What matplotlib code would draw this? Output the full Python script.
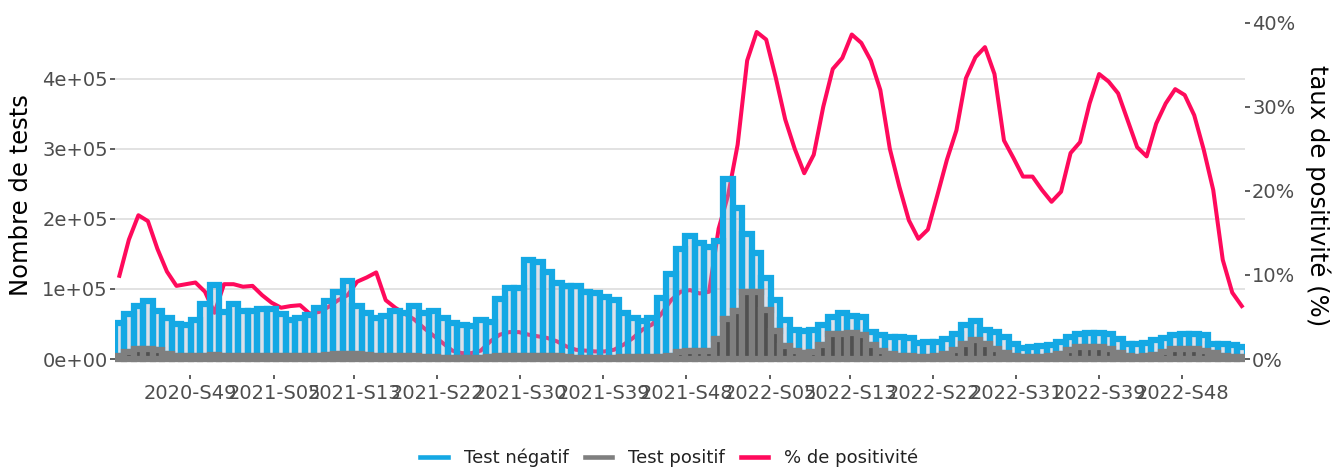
import numpy as np
import pandas as pd
import matplotlib
matplotlib.use("Agg")
import matplotlib.pyplot as plt
from matplotlib.lines import Line2D
from matplotlib.ticker import FixedLocator, FuncFormatter

# weekly data, 119 weeks starting mid-october 2020
weeks = pd.date_range("2020-10-10", periods=119, freq="7D")

# total number of tests (thousands)
total_k = [51, 64, 75, 83, 68, 59, 50, 49, 56, 78, 106, 67, 78, 69, 69, 72, 72, 64, 56, 58,
           63, 73, 83, 96, 111, 75, 65, 58, 61, 69, 66, 76, 65, 68, 59, 51, 49, 47, 55, 53,
           85, 101, 101, 141, 139, 124, 109, 104, 104, 95, 94, 89, 84, 66, 59, 54, 59, 87, 121, 157,
           175, 166, 160, 169, 257, 215, 178, 151, 115, 84, 55, 42, 40, 41, 48, 60, 65, 61, 60, 39,
           34, 32, 31, 30, 23, 24.5, 24.5, 29, 36, 49, 54, 41, 38, 32, 21, 16, 17, 18, 20, 24.5,
           32, 35, 37, 37, 36, 29, 22, 21, 23, 27, 30, 34, 36, 35, 34, 22, 21, 20, 17]

# positive tests (thousands)
positive_k = [5, 10, 14, 14, 13, 7, 5, 5, 5, 5, 6, 5, 5, 5, 5, 5, 5, 4, 4, 4,
              4, 5, 6, 7, 7, 7, 6, 5, 5, 4, 4, 4, 3, 3, 2, 2, 2, 2, 2, 3,
              4, 5, 5, 5, 5, 4, 4, 3, 2, 2, 2, 2, 2, 3, 3, 3, 3, 3, 5, 10,
              12, 12, 11, 28, 57, 68, 96, 96, 70, 40, 19, 12, 9, 10, 20, 36, 36, 37, 34, 20,
              12, 7, 5, 4, 3, 3, 4, 7, 13, 22, 27, 22, 15, 8, 4, 3, 3, 3, 4, 7,
              13, 17, 17, 17, 15, 9, 4, 3, 4, 6, 10, 14, 15, 15, 12, 8, 4, 3, 3]

# positivity rate (%)
positivity = [9.9, 14.2, 17.1, 16.4, 13.1, 10.4, 8.7, 8.9, 9.1, 8.0, 5.5, 8.9, 8.9, 8.6, 8.7, 7.6, 6.7, 6.1, 6.3, 6.4,
              5.4, 5.6, 6.2, 7.0, 7.6, 9.2, 9.7, 10.3, 7.0, 6.1, 5.4, 4.7, 3.7, 2.8, 1.9, 1.0, 0.7, 0.7, 1.0, 2.1,
              2.9, 3.2, 3.2, 2.9, 2.7, 2.5, 2.1, 1.5, 1.1, 1.0, 0.9, 0.9, 1.1, 1.7, 2.5, 3.5, 4.1, 5.4, 7.0, 8.0,
              8.2, 7.8, 8.0, 15.5, 19.5, 25.5, 35.5, 38.9, 38.0, 33.5, 28.5, 25.0, 22.1, 24.3, 30.0, 34.5, 35.8, 38.6, 37.6, 35.5,
              32.0, 25.0, 20.5, 16.5, 14.3, 15.4, 19.5, 23.7, 27.2, 33.4, 35.9, 37.1, 33.9, 26.0, 23.9, 21.7, 21.7, 20.1, 18.7, 19.9,
              24.5, 25.8, 30.4, 33.9, 33.0, 31.6, 28.4, 25.2, 24.1, 28.0, 30.4, 32.1, 31.4, 29.0, 24.9, 20.1, 11.8, 7.9, 6.3]

tick_dates = pd.to_datetime(["2020-12-01", "2021-02-01", "2021-04-01", "2021-06-01", "2021-08-01",
                             "2021-10-01", "2021-12-01", "2022-02-01", "2022-04-01", "2022-06-01",
                             "2022-08-01", "2022-10-01", "2022-12-01"])
tick_labels = ["2020-S49", "2021-S05", "2021-S13", "2021-S22", "2021-S30", "2021-S39", "2021-S48",
               "2022-S05", "2022-S13", "2022-S22", "2022-S31", "2022-S39", "2022-S48"]

count_ticks = [0, 100000, 200000, 300000, 400000]
pct_ticks = [0, 10, 20, 30, 40]
scale = 12000  # tests per % on the secondary axis

col_neg = "#14A8E4"
col_pos = "#7F7F7F"
col_line = "#FF0A5C"
txt_col = "#4D4D4D"

total = np.array(total_k) * 1000
pos = np.array(positive_k) * 1000
neg = total - pos

plt.rcParams["font.family"] = "DejaVu Sans"

fig = plt.figure(figsize=(13.39, 4.68), dpi=100)
ax1 = fig.add_axes([0.0859, 0.198, 0.8439, 0.769])
ax2 = ax1.twinx()
ax1.set_zorder(2)
ax2.set_zorder(1)
ax1.patch.set_visible(False)

ylo, yhi = -23300, 490400
ax1.set_ylim(ylo, yhi)
ax2.set_ylim(ylo / scale, yhi / scale)
ax1.set_xlim(pd.Timestamp("2020-10-06 19:00"), pd.Timestamp("2023-01-16 09:00"))

# line (behind the bars)
ax2.plot(weeks, positivity, color=col_line, lw=2.9, solid_joinstyle="round")

# grid lines at left-axis breaks, drawn on the back axis
ax2.yaxis.set_minor_locator(FixedLocator(np.array(count_ticks) / scale))
ax2.grid(which="minor", axis="y", color="#DADADA", lw=1.1)
ax2.grid(which="major", visible=False)
ax2.tick_params(which="minor", length=0)

# bars: thick outline, see-through core
ax1.bar(weeks, neg, bottom=pos, width=7, facecolor=(0.62, 0.67, 0.76, 0.36),
        edgecolor=col_neg, linewidth=4.5)
ax1.bar(weeks, pos, width=7, facecolor="#505050", edgecolor=col_pos, linewidth=4.5)

for a in (ax1, ax2):
    for s in a.spines.values():
        s.set_visible(False)

ax1.set_yticks(count_ticks)
ax1.yaxis.set_major_formatter(FuncFormatter(lambda v, p: "0e+00" if v == 0 else f"{int(v/1e5)}e+05"))
ax2.set_yticks(pct_ticks)
ax2.set_yticklabels([f"{t}%" for t in pct_ticks])
ax1.set_xticks(tick_dates)
ax1.set_xticklabels(tick_labels)

ax1.tick_params(axis="y", labelsize=14, labelcolor=txt_col, length=3.6, width=1.1, color="#333333", pad=1.5)
ax1.tick_params(axis="x", labelsize=14, labelcolor=txt_col, length=3.2, width=1.1, color="#333333", pad=3)
ax2.tick_params(axis="y", which="major", labelsize=14, labelcolor=txt_col, length=3.6, width=1.1,
                color="#333333", pad=1.5)

ax1.set_ylabel("Nombre de tests", fontsize=17.5, labelpad=7)
ax2.set_ylabel("taux de positivité (%)", fontsize=17.5, rotation=270, labelpad=25)

handles = [Line2D([0], [0], color=col_neg, lw=3.3),
           Line2D([0], [0], color=col_pos, lw=3.3),
           Line2D([0], [0], color=col_line, lw=3.3)]
leg = fig.legend(handles, ["Test négatif", "Test positif", "% de positivité"], loc="center",
                 bbox_to_anchor=(0.5, 0.022), ncol=3, frameon=False, fontsize=13,
                 handlelength=1.5, handletextpad=0.9, columnspacing=0.9)
for t in leg.get_texts():
    t.set_color("#222222")

fig.savefig("out.png", dpi=100)
